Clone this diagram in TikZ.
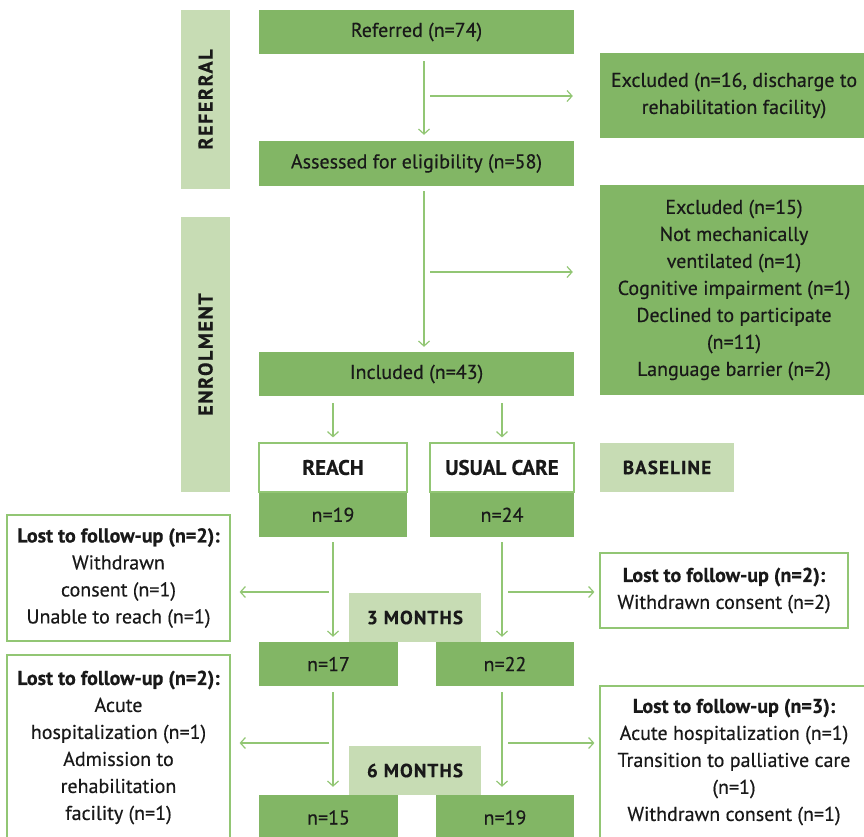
\documentclass[tikz,border=0pt]{standalone}
\usepackage{fontspec}
\setmainfont{PT Sans}[UprightFeatures={FakeBold=0.4}, BoldFeatures={FakeBold=0.5}]
\usetikzlibrary{positioning, arrows.meta}
\definecolor{boxgreen}{RGB}{130,182,101}
\definecolor{phasegreen}{RGB}{199,220,180}
\definecolor{linegreen}{RGB}{146,198,116}

\begin{document}
\begin{tikzpicture}[
  x=1pt, y=-1pt,
  font=\fontsize{20}{27}\selectfont,
  every node/.style={inner sep=0pt, align=center, text=black!90},
  stage/.style={fill=boxgreen, minimum height=44pt},
  excl/.style={fill=boxgreen, minimum width=268pt},
  lost/.style={draw=linegreen, line width=1.2pt, fill=white},
  arm/.style={draw=linegreen, line width=1.2pt, fill=white, minimum height=49pt,
              font=\fontsize{21}{27}\selectfont\bfseries},
  phase/.style={fill=phasegreen, minimum height=49pt,
                font=\fontsize{19}{20}\selectfont\bfseries\addfontfeature{LetterSpace=6}},
  side/.style={fill=phasegreen, rotate=90, minimum height=49pt,
               font=\fontsize{20}{20}\selectfont\bfseries\addfontfeature{LetterSpace=8}},
  arrow/.style={-{Straight Barb[length=5pt,width=11pt]}, draw=linegreen, line width=1.2pt}
]
\useasboundingbox (0,0) rectangle (864,836);
\clip (0,0) rectangle (864,836);

% referral and enrolment
\node[side, minimum width=179pt] (referral) at (205.5,99.5) {REFERRAL};
\node[side, minimum width=275pt] (enrolment) at (205.5,354.5) {ENROLMENT};
\node[stage, minimum width=315pt] (referred) at (416.5,32) {Referred (n=74)};
\node[excl, minimum height=85pt] (excl1) at (734,95.5) {Excluded (n=16, discharge to\\rehabilitation facility)};
\node[stage, minimum width=315pt, minimum height=45pt] (assessed) at (416.5,163.5) {Assessed for eligibility (n=58)};
\node[excl, minimum height=210pt] (excl2) at (734,290) {Excluded (n=15)\\Not mechanically\\ventilated (n=1)\\Cognitive impairment (n=1)\\Declined to participate\\(n=11)\\Language barrier (n=2)};
\node[stage, minimum width=315pt] (included) at (416.5,374) {Included (n=43)};

% baseline
\node[arm, minimum width=148pt] (reach) at (333,467.5) {REACH};
\node[stage, minimum width=148pt, anchor=north] (reachn) at (reach.south) {n=19};
\node[arm, minimum width=144pt] (usual) at (502,467.5) {USUAL CARE};
\node[stage, minimum width=144pt, anchor=north] (usualn) at (usual.south) {n=24};
\node[phase, minimum width=134pt] (baseline) at (667,467.5) {BASELINE};

% 3 months
\node[lost, minimum width=223pt, minimum height=126pt] (lost3l) at (118.5,578) {\textbf{Lost to follow-up (n=2):}\\Withdrawn\\consent (n=1)\\Unable to reach (n=1)};
\node[lost, minimum width=248pt, minimum height=75pt] (lost3r) at (724,590.5) {\textbf{Lost to follow-up (n=2):}\\Withdrawn consent (n=2)};
\node[phase, minimum width=132pt] (m3) at (415,617.5) {3 MONTHS};
\node[stage, minimum width=139pt] (r3) at (328.5,664) {n=17};
\node[stage, minimum width=138pt] (u3) at (505,664) {n=22};

% 6 months
\node[lost, minimum width=223pt, minimum height=185pt] (lost6l) at (118.5,747.5) {\textbf{Lost to follow-up (n=2):}\\Acute\\hospitalization (n=1)\\Admission to\\rehabilitation\\facility (n=1)};
\node[lost, minimum width=268pt, minimum height=152pt] (lost6r) at (734,762) {\textbf{Lost to follow-up (n=3):}\\Acute hospitalization (n=1)\\Transition to palliative care\\(n=1)\\Withdrawn consent (n=1)};
\node[phase, minimum width=132pt] (m6) at (415,770.5) {6 MONTHS};
\node[stage, minimum width=139pt, minimum height=45pt] (r6) at (328.5,817.5) {n=15};
\node[stage, minimum width=138pt, minimum height=45pt] (u6) at (505,817.5) {n=19};

% arrows
\coordinate (split1) at (424,96);
\coordinate (split2) at (424,272);
\coordinate (split3l) at (333,592);
\coordinate (split3r) at (502,592);
\coordinate (split6l) at (333,743);
\coordinate (split6r) at (502,743);
\draw[arrow, shorten <=7pt, shorten >=6pt] ([xshift=7.5pt]referred.south) -- ([xshift=7.5pt]assessed.north);
\draw[arrow, shorten <=6pt, shorten >=27pt] (split1) -- (split1 -| excl1.west);
\draw[arrow, shorten <=5pt, shorten >=5pt] ([xshift=7.5pt]assessed.south) -- ([xshift=7.5pt]included.north);
\draw[arrow, shorten <=6pt, shorten >=27pt] (split2) -- (split2 -| excl2.west);
\draw[arrow, shorten <=7pt, shorten >=5pt] (included.south -| reach.north) -- (reach.north);
\draw[arrow, shorten <=7pt, shorten >=5pt] (included.south -| usual.north) -- (usual.north);
\draw[arrow, shorten <=5pt, shorten >=5pt] (reachn.south) -- (reachn.south |- r3.north);
\draw[arrow, shorten <=4pt, shorten >=9pt] (split3l) -- (split3l -| lost3l.east);
\draw[arrow, shorten <=5pt, shorten >=5pt] (usualn.south) -- (usualn.south |- u3.north);
\draw[arrow, shorten <=6pt, shorten >=5pt] (split3r) -- (split3r -| lost3r.west);
\draw[arrow, shorten <=6pt, shorten >=8pt] ([xshift=4.5pt]r3.south) -- ([xshift=4.5pt]r3.south |- r6.north);
\draw[arrow, shorten <=4pt, shorten >=9pt] (split6l) -- (split6l -| lost6l.east);
\draw[arrow, shorten <=6pt, shorten >=8pt] ([xshift=-3pt]u3.south) -- ([xshift=-3pt]u3.south |- u6.north);
\draw[arrow, shorten <=6pt, shorten >=5pt] (split6r) -- (split6r -| lost6r.west);
\end{tikzpicture}
\end{document}
